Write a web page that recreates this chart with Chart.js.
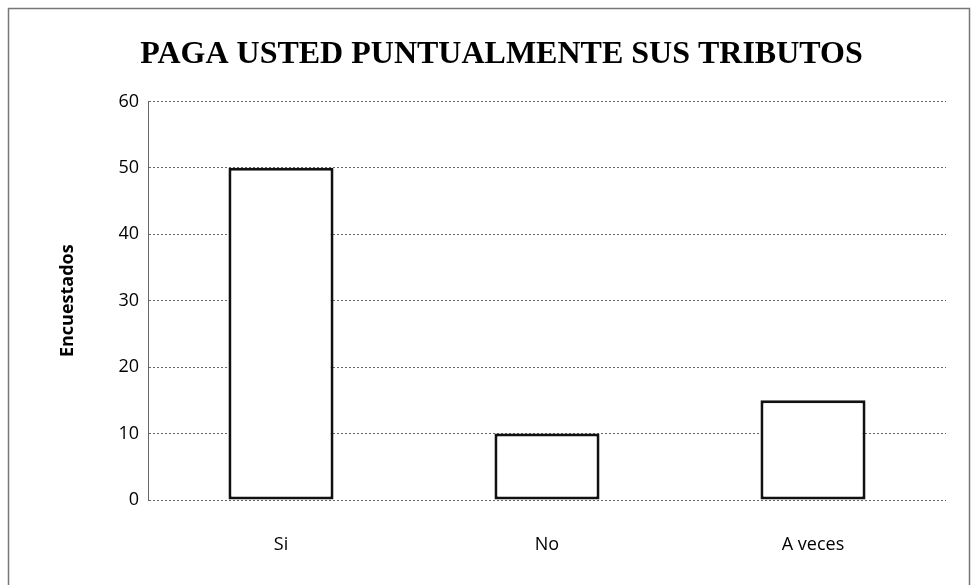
<!DOCTYPE html>
<html>
<head>
<meta charset="utf-8">
<script src="https://cdn.jsdelivr.net/npm/chart.js@4.4.1/dist/chart.umd.min.js"></script>
<style>
html,body{margin:0;padding:0;background:#fff;}
#wrap{width:976px;height:585px;position:relative;}
</style>
</head>
<body>
<div id="wrap"><canvas id="c" width="976" height="585"></canvas></div>
<script>
const categories = ["Si", "No", "A veces"];
const encuestados = [50, 10, 15];
const yTicks = [0, 10, 20, 30, 40, 50, 60];
const chartTitle = "PAGA USTED PUNTUALMENTE SUS TRIBUTOS";
const yTitle = "Encuestados";

const frame = {
  id: 'frame',
  beforeDraw(chart) {
    const ctx = chart.ctx;
    ctx.save();
    ctx.fillStyle = '#fff';
    ctx.fillRect(0, 0, chart.width, chart.height);
    ctx.strokeStyle = '#777';
    ctx.lineWidth = 1.5;
    ctx.strokeRect(8.5, 8.5, 961, 580);
    ctx.restore();
  }
};

new Chart(document.getElementById('c'), {
  type: 'bar',
  data: {
    labels: categories,
    datasets: [{
      data: encuestados,
      backgroundColor: '#ffffff',
      borderColor: '#111111',
      borderWidth: 3,
      borderSkipped: false,
      barPercentage: 0.79,
      categoryPercentage: 0.5
    }]
  },
  options: {
    responsive: false,
    animation: false,
    layout: { padding: { left: 57, right: 30, top: 36, bottom: 0 } },
    plugins: {
      legend: { display: false },
      tooltip: { enabled: false },
      title: {
        display: true,
        text: chartTitle,
        color: '#000',
        font: { family: 'Liberation Serif', size: 32, weight: 'bold' },
        padding: { top: 0, bottom: 27 }
      }
    },
    scales: {
      x: {
        grid: { display: false },
        border: { display: false },
        afterFit(scale) { scale.height = 85; },
        ticks: {
          color: '#000',
          font: { family: 'Open Sans', size: 18 },
          padding: 26
        }
      },
      y: {
        min: 0,
        max: 60,
        afterBuildTicks(scale) { scale.ticks = yTicks.map(v => ({ value: v })); },
        afterFit(scale) { scale.width = 91; },
        grid: { color: '#666', lineWidth: 1, drawTicks: false },
        border: { display: true, color: '#666', dash: [2, 2] },
        ticks: {
          color: '#000',
          font: { family: 'Open Sans', size: 18 },
          padding: 9
        },
        title: {
          display: true,
          text: yTitle,
          color: '#000',
          font: { family: 'Open Sans', size: 18, weight: 'bold' },
          padding: { top: 0, bottom: 20 }
        }
      }
    }
  },
  plugins: [frame]
});
</script>
</body>
</html>
